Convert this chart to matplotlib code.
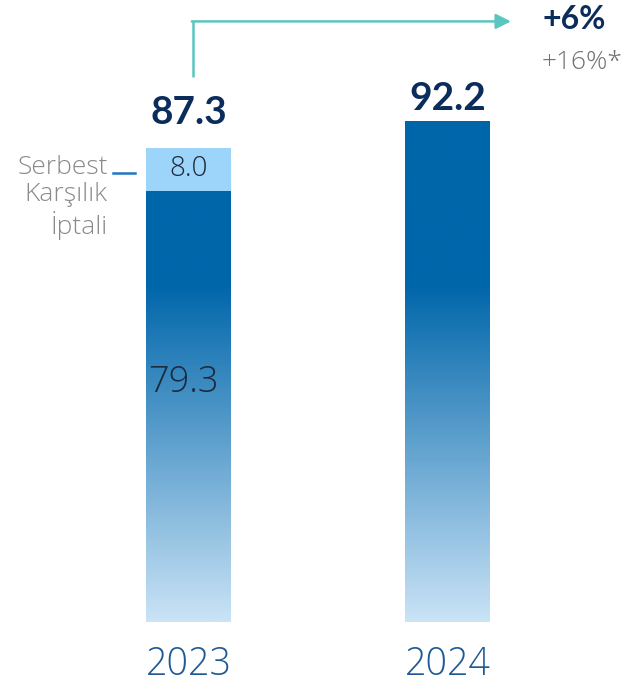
import numpy as np
import matplotlib
matplotlib.use("Agg")
import matplotlib.pyplot as plt
from matplotlib.colors import LinearSegmentedColormap
from matplotlib.patches import Rectangle

# data
years = ["2023", "2024"]
base = [79.3, 92.2]
release = [8.0, 0.0]
totals = [87.3, 92.2]
growth = "+6%"
growth_adj = "+16%*"
side_label = "Serbest\nKarşılık\nİptali"

plt.rcParams['font.family'] = ['Lato', 'DejaVu Sans']
THIN = ['Open Sans', 'DejaVu Sans']

DARK = "#0066AA"
LIGHT = "#CAE3F6"
LIGHT_SEG = "#9DD5FA"
NAVY = "#0B2D5B"

fig = plt.figure(figsize=(6.34, 6.87), dpi=100)
ax = fig.add_axes([0, 0, 1, 1])
ax.set_xlim(-0.7278, 1.7201)
ax.set_ylim(-11.96, 114.44)
ax.axis('off')

width = 0.328
grad_top = 62.0  # bars are solid dark above this value
cmap = LinearSegmentedColormap.from_list("bar", [LIGHT, DARK])
label_gap = [3.3, 0.9]

for i, (b, r, t) in enumerate(zip(base, release, totals)):
    x0 = i - width / 2
    ys = np.linspace(0, b, 400)
    g = np.clip(ys / grad_top, 0, 1)[:, None]
    im = ax.imshow(g, cmap=cmap, vmin=0, vmax=1, origin='lower', aspect='auto',
                   extent=(x0, x0 + width, 0, b), interpolation='bilinear', zorder=1)
    clip = Rectangle((x0, 0), width, b, transform=ax.transData)
    im.set_clip_path(clip)
    if r > 0:
        ax.bar(i, r, width=width, bottom=b, color=LIGHT_SEG, zorder=2)
        ax.text(i, b + r / 2, f"{r:.1f}", ha='center', va='center', fontsize=20,
                family=THIN, fontweight='light', color="#1B2A3C", zorder=3)
        ax.text(i - 0.02, b * 0.555, f"{b:.1f}", ha='center', va='center', fontsize=26,
                family=THIN, fontweight='light', color="#1B2A3C", zorder=3)
    ax.text(i, t + label_gap[i], f"{t:.1f}", ha='center', va='bottom', fontsize=28,
            fontweight='bold', color=NAVY)
    ax.text(i, -7.9, years[i], ha='center', va='center', fontsize=27,
            family=THIN, fontweight='light', color="#1F5A94")

# side label with leader line
ax.text(-0.312, base[0] + release[0] / 2 + 2.7, side_label, ha='right', va='top',
        fontsize=19, family=THIN, fontweight='light', color="#8A8A8A", linespacing=1.15)
ax.plot([-0.292, -0.207], [base[0] + release[0] / 2 - 0.6] * 2, color="#1F77C0", lw=1.8)

# growth arrow
ax_y = totals[0] + 13.0
top_y = 110.5
ax.plot([0.017, 0.017], [ax_y, top_y], color="#5BC5C2", lw=1.8, solid_capstyle='butt')
ax.annotate("", xy=(1.245, top_y), xytext=(0.013, top_y),
            arrowprops=dict(arrowstyle='-|>,head_length=0.9,head_width=0.45',
                            color="#5BC5C2", lw=1.8, shrinkA=0, shrinkB=0))
ax.text(1.365, top_y + 0.3, growth, ha='left', va='center', fontsize=23,
        fontweight='bold', color=NAVY)
ax.text(1.365, top_y - 7.6, growth_adj, ha='left', va='center', fontsize=19,
        family=THIN, fontweight='light', color="#707070")

fig.savefig("out.png", dpi=100)
